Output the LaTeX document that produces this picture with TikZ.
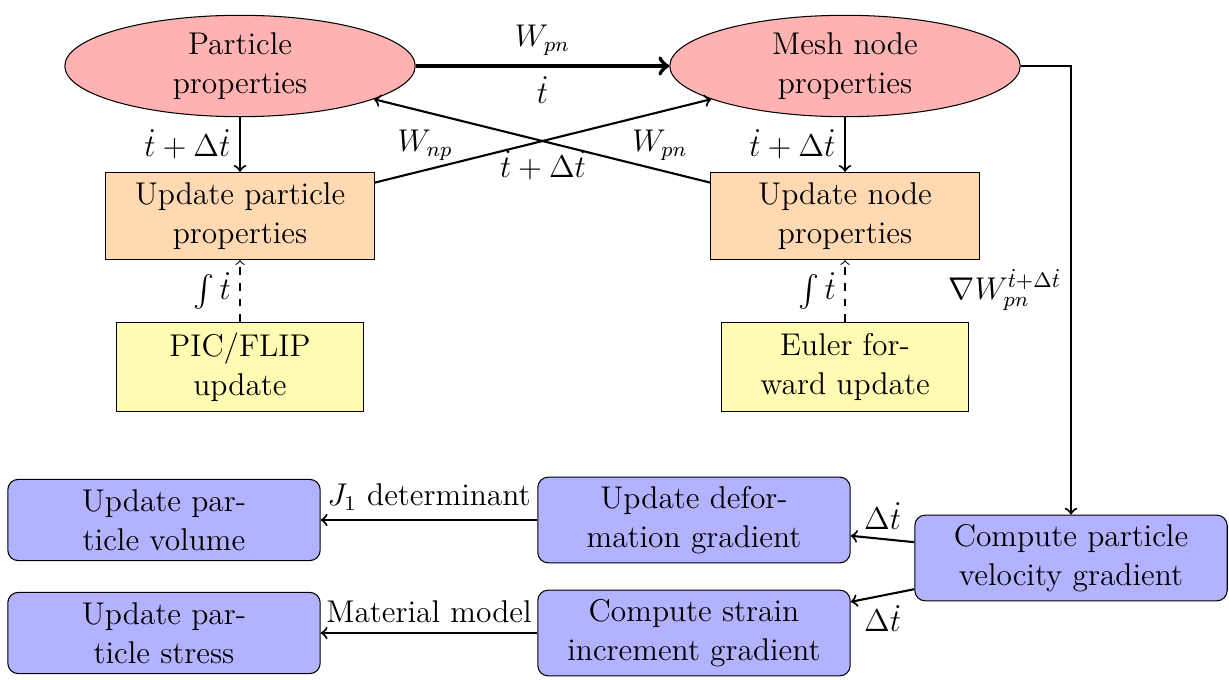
\documentclass[tikz,border=0pt]{standalone}
\usepackage{amsmath}
\usetikzlibrary{shapes.geometric}
\begin{document}
\begin{tikzpicture}[x=0.01342cm, y=-0.01342cm,
  font=\fontsize{12}{15}\selectfont,
  prop/.style={ellipse, draw, fill=red!30, minimum width=4.70cm, minimum height=1.36cm, align=center, inner sep=0pt},
  upd/.style={rectangle, draw, fill=orange!30, minimum width=3.60cm, minimum height=1.17cm, align=center},
  integ/.style={rectangle, draw, fill=yellow!30, minimum width=3.31cm, minimum height=1.19cm, align=center},
  grad/.style={rectangle, draw, fill=blue!30, rounded corners=4pt, minimum width=4.19cm, minimum height=1.15cm, align=center},
  flow/.style={->, thick},
  main/.style={->, ultra thick},
  feed/.style={->, dashed}]
\useasboundingbox (0,0) rectangle (1229,680);

% property nodes
\node[prop] (part) at (240,66) {Particle\\properties};
\node[prop] (mesh) at (845,66) {Mesh node\\properties};

% update steps
\node[upd] (upart) at (240,216) {Update particle\\properties};
\node[upd] (unode) at (845,216) {Update node\\properties};

% integration schemes
\node[integ] (pic) at (240,367) {PIC/FLIP\\update};
\node[integ] (euler) at (845,367) {Euler for-\\ward update};

% gradient pipeline
\node[grad, minimum height=1.09cm] (vol) at (164,520) {Update par-\\ticle volume};
\node[grad] (defo) at (694,520) {Update defor-\\mation gradient};
\node[grad] (vel) at (1071,558) {Compute particle\\velocity gradient};
\node[grad, minimum height=1.09cm] (stress) at (164,633) {Update par-\\ticle stress};
\node[grad] (strain) at (694,633) {Compute strain\\increment gradient};

% transfers between particles and mesh
\draw[main] (part) -- node[above] {$W_{pn}$} node[below] {$\dot t$} (mesh);
\draw[flow] (upart) -- node[pos=0.15, above] {$W_{np}$} node[below] {$\dot t+\Delta\dot t$} (mesh);
\draw[flow] (unode) -- node[pos=0.15, above] {$W_{pn}$} (part);

\draw[flow] (part) -- node[left] {$\dot t+\Delta\dot t$} (upart);
\draw[flow] (mesh) -- node[left] {$\dot t+\Delta\dot t$} (unode);

\draw[feed] (pic) -- node[left] {$\int\dot t$} (upart);
\draw[feed] (euler) -- node[left] {$\int\dot t$} (unode);

% velocity gradient and its consequences
\draw[flow] (mesh.east) -| node[pos=0.75, left] {$\nabla W_{pn}^{\dot t+\Delta\dot t}$} (vel.north);
\draw[flow] (vel) -- node[above] {$\Delta\dot t$} (defo);
\draw[flow] (vel) -- node[below] {$\Delta\dot t$} (strain);
\draw[flow] (defo) -- node[above] {$J_1$ determinant} (vol);
\draw[flow] (strain) -- node[above] {Material model} (stress);
\end{tikzpicture}
\end{document}
